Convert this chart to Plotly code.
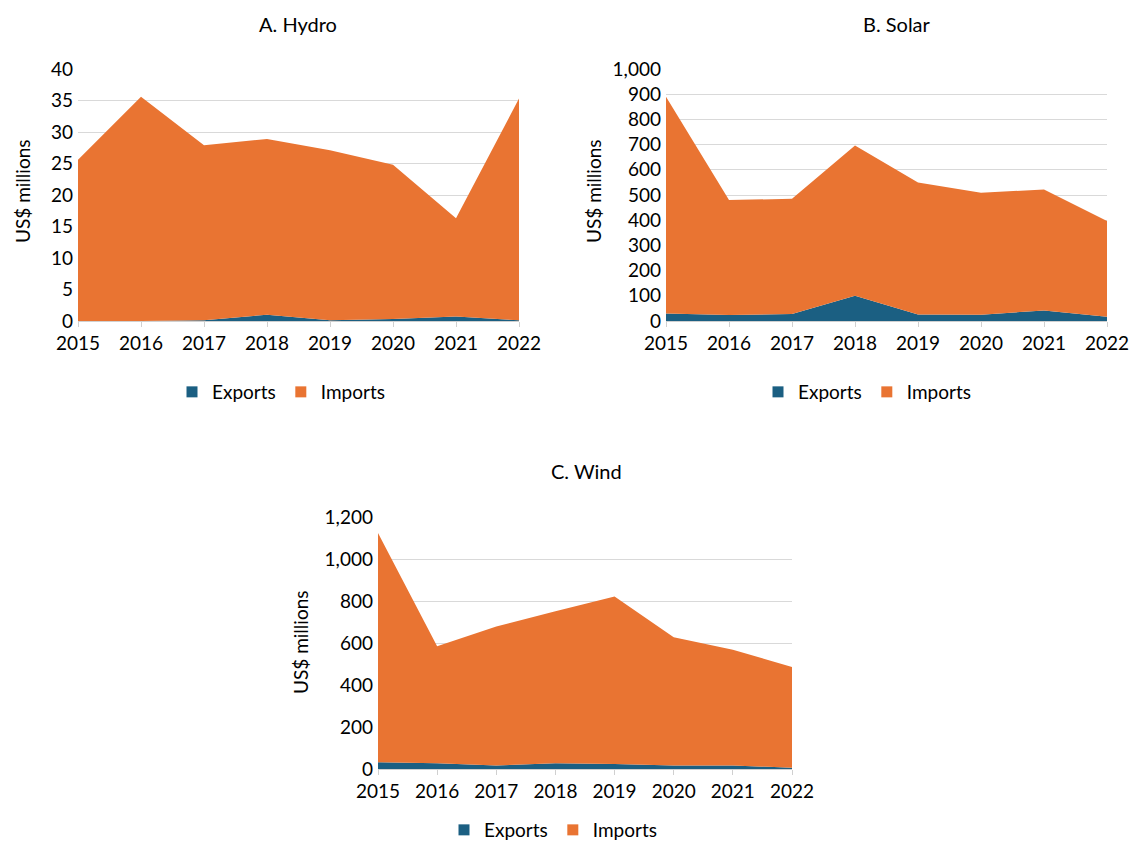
import plotly.graph_objects as go

years = [2015, 2016, 2017, 2018, 2019, 2020, 2021, 2022]

hydro_exports = [0.0, 0.0, 0.1, 1.0, 0.1, 0.3, 0.7, 0.1]
hydro_total = [25.6, 35.6, 27.9, 28.9, 27.1, 24.8, 16.3, 35.3]
hydro_imports = [round(t - e, 2) for t, e in zip(hydro_total, hydro_exports)]

solar_exports = [30, 24, 28, 100, 26, 25, 42, 17]
solar_total = [890, 480, 485, 696, 550, 509, 522, 397]
solar_imports = [t - e for t, e in zip(solar_total, solar_exports)]

wind_exports = [32, 27, 17, 27, 24, 17, 17, 6]
wind_total = [1124, 584, 679, 751, 822, 627, 568, 486]
wind_imports = [t - e for t, e in zip(wind_total, wind_exports)]

panel_titles = ["A. Hydro", "B. Solar", "C. Wind"]
y_title = "US$ millions"
series_names = ["Exports", "Imports"]

EXP_COLOR = "#1b5f82"
IMP_COLOR = "#e97432"
FONT = "Lato, 'Open Sans', sans-serif"
FS = 19

W, H = 1131, 849

def px_x(p):
    return p / W

def px_y(p):
    return (H - p) / H

fig = go.Figure()

panels = [
    dict(exp=hydro_exports, imp=hydro_imports, xa="x", ya="y", leg="legend"),
    dict(exp=solar_exports, imp=solar_imports, xa="x2", ya="y2", leg="legend2"),
    dict(exp=wind_exports, imp=wind_imports, xa="x3", ya="y3", leg="legend3"),
]

for i, p in enumerate(panels):
    fig.add_trace(go.Scatter(
        x=years, y=p["exp"], name=series_names[0], stackgroup=f"s{i}",
        mode="none", fillcolor=EXP_COLOR, xaxis=p["xa"], yaxis=p["ya"],
        legend=p["leg"], showlegend=False))
    fig.add_trace(go.Scatter(
        x=years, y=p["imp"], name=series_names[1], stackgroup=f"s{i}",
        mode="none", fillcolor=IMP_COLOR, xaxis=p["xa"], yaxis=p["ya"],
        legend=p["leg"], showlegend=False))
    for name, col in zip(series_names, [EXP_COLOR, IMP_COLOR]):
        fig.add_trace(go.Scatter(
            x=[None], y=[None], name=name, mode="markers",
            marker=dict(symbol="square", size=11, color=col),
            xaxis=p["xa"], yaxis=p["ya"], legend=p["leg"], showlegend=True))

axis_common = dict(
    showgrid=False, ticks="outside", ticklen=5, tickcolor="#d0d0d0",
    showline=True, linecolor="#d0d0d0", linewidth=1, automargin=False,
    tickfont=dict(size=FS, color="#000000"), tickmode="array",
    tickvals=years, ticktext=[str(y) for y in years],
    range=[2015, 2022], fixedrange=True,
)
yaxis_common = dict(
    showgrid=True, gridcolor="#d9d9d9", gridwidth=1, zeroline=False,
    showline=False, ticks="", tickfont=dict(size=FS, color="#000000"),
    tickformat=",", fixedrange=True, automargin=False, ticklabelstandoff=4,
)

domA_x = [px_x(78), px_x(519)]
domB_x = [px_x(666), px_x(1107)]
domC_x = [px_x(378), px_x(792)]
domAB_y = [px_y(321), px_y(69)]
domC_y = [px_y(769), px_y(517)]

leg_common = dict(orientation="h", xanchor="center",
                  font=dict(size=FS), itemwidth=30, tracegroupgap=0,
                  traceorder="normal", bgcolor="rgba(0,0,0,0)")

fig.update_layout(
    width=W, height=H,
    margin=dict(l=0, r=0, t=0, b=0),
    paper_bgcolor="white", plot_bgcolor="white",
    font=dict(family=FONT, size=FS, color="#000000"),
    xaxis=dict(domain=domA_x, anchor="y", **axis_common),
    yaxis=dict(domain=domAB_y, anchor="x", range=[0, 40], dtick=5, **yaxis_common),
    xaxis2=dict(domain=domB_x, anchor="y2", **axis_common),
    yaxis2=dict(domain=domAB_y, anchor="x2", range=[0, 1000], dtick=100, **yaxis_common),
    xaxis3=dict(domain=domC_x, anchor="y3", **axis_common),
    yaxis3=dict(domain=domC_y, anchor="x3", range=[0, 1200], dtick=200, **yaxis_common),
    legend=dict(x=px_x(281), y=px_y(392), yanchor="middle", **leg_common),
    legend2=dict(x=px_x(867), y=px_y(392), yanchor="middle", **leg_common),
    legend3=dict(x=px_x(553), y=0, yanchor="bottom", **leg_common),
    showlegend=True,
)

for text, cx, cy in zip(panel_titles, [298, 897, 586], [24, 24, 471]):
    fig.add_annotation(text=text, x=px_x(cx), y=px_y(cy), xref="paper", yref="paper",
                       xanchor="center", yanchor="middle", showarrow=False,
                       font=dict(size=FS + 1, color="#000000"))

for cx, cy in zip([22, 593, 300], [192, 192, 643]):
    fig.add_annotation(text=y_title, x=px_x(cx), y=px_y(cy), xref="paper", yref="paper",
                       xanchor="center", yanchor="middle", showarrow=False, textangle=-90,
                       font=dict(size=FS, color="#000000"))

fig.write_html(
    "out.html",
    config={"displayModeBar": False},
    post_script="document.body.style.margin='0';document.body.style.overflow='hidden';",
)
